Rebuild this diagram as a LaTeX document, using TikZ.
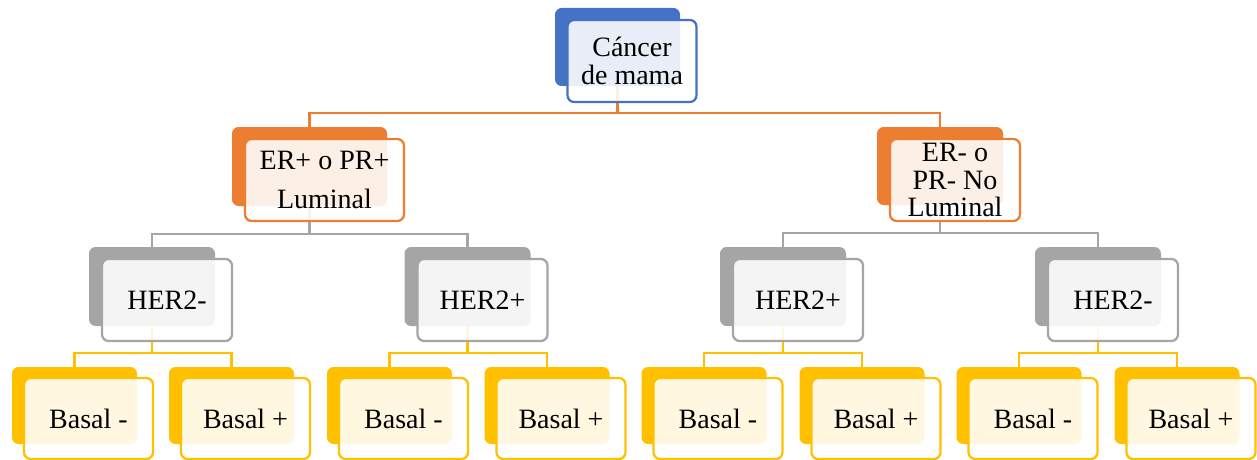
\documentclass[tikz,border=0pt]{standalone}
\usepackage{fontspec}
\setmainfont{Liberation Serif}
\definecolor{accblue}{HTML}{4472C4}
\definecolor{accorange}{HTML}{ED7D31}
\definecolor{accgray}{HTML}{A5A5A5}
\definecolor{accgold}{HTML}{FFC000}
\tikzset{
	backcard/.style={fill=#1, rounded corners=5pt, inner sep=0pt},
	frontcard/.style={draw=#1, fill=white, fill opacity=0.88, text opacity=1, line width=1.7pt,
		rounded corners=5pt, inner sep=0pt, align=center, font=\fontsize{21}{20.5}\selectfont},
	cardsize/.style 2 args={minimum width=#1*0.75pt, minimum height=#2*0.75pt},
	link/.style={draw=#1, line width=1.7pt},
}
\begin{document}
\begin{tikzpicture}[x=0.75pt, y=-0.75pt]
		\useasboundingbox (0,0) rectangle (1257,460);

		% back cards
		\node[backcard=accblue, cardsize={125}{78}] (root-b) at (617.5,47) {};
		\node[backcard=accorange, cardsize={155}{79}] (lum-b) at (309.5,166.5) {};
		\node[backcard=accorange, cardsize={126}{78}] (nolum-b) at (940,166) {};
		\foreach \n/\cx in {herA/152, herB/467.5, herC/783, herD/1098} {
			\node[backcard=accgray, cardsize={126}{79}] (\n-b) at (\cx,286.5) {};
		}
		\foreach \n/\cx in {1/74.5, 2/231.5, 3/389.5, 4/547, 5/704, 6/862, 7/1019, 8/1177} {
			\node[backcard=accgold, cardsize={125}{77}] (basal\n-b) at (\cx,405.5) {};
		}

		% connectors
		\draw[link=accorange] (root-b.south) -- ++(0,27) -| (lum-b.north);
		\draw[link=accorange] (root-b.south) -- ++(0,27) -| (nolum-b.north);
		\draw[link=accgray] (lum-b.south) -- ++(0,28) -| (herA-b.north);
		\draw[link=accgray] (lum-b.south) -- ++(0,28) -| (herB-b.north);
		\draw[link=accgray] (nolum-b.south) -- ++(0,28) -| (herC-b.north);
		\draw[link=accgray] (nolum-b.south) -- ++(0,28) -| (herD-b.north);
		\foreach \p/\a/\b in {herA/1/2, herB/3/4, herC/5/6, herD/7/8} {
			\draw[link=accgold] (\p-b.south) -- ++(0,27) -| (basal\a-b.north);
			\draw[link=accgold] (\p-b.south) -- ++(0,27) -| (basal\b-b.north);
		}

		% front cards
		\node[frontcard=accblue, cardsize={129}{82}] (root) at (632,61) {Cáncer\\de mama};
		\node[frontcard=accorange, cardsize={159}{82}] (lum) at (324.5,180) {ER+ o PR+\\[9pt]Luminal};
		\node[frontcard=accorange, cardsize={130}{82}] (nolum) at (955,180) {ER- o\\PR- No\\Luminal};
		\foreach \n/\cx/\txt in {herA/152/HER2-, herB/467.5/HER2+, herC/783/HER2+, herD/1098/HER2-} {
			\node[frontcard=accgray, cardsize={130}{82}] (\n) at (\cx+15,300) {\txt};
		}
		\foreach \n/\cx/\txt in {1/74.5/Basal -, 2/231.5/Basal +, 3/389.5/Basal -, 4/547/Basal +,
			5/704/Basal -, 6/862/Basal +, 7/1019/Basal -, 8/1177/Basal +} {
			\node[frontcard=accgold, cardsize={129}{81}] (basal\n) at (\cx+14,418.5) {\txt};
		}
	\end{tikzpicture}
\end{document}
